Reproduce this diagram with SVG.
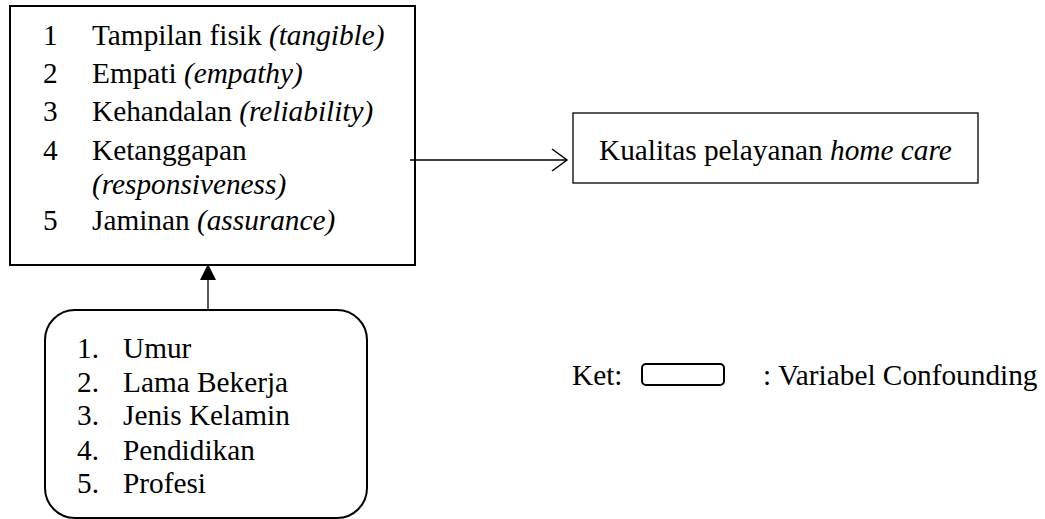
<svg xmlns="http://www.w3.org/2000/svg" width="1045" height="519" viewBox="0 0 1045 519">
<style>
text{font-size:29.3px;fill:#000}
.it{font-style:italic}
.box{fill:#fff;stroke:#000}
.ln{stroke:#000;fill:none}
</style>
<defs>
<marker id="open" markerWidth="18" markerHeight="26" refX="16" refY="13" orient="auto" markerUnits="userSpaceOnUse">
<path d="M1,2 L16,13 L1,24" fill="none" stroke="#000" stroke-width="1.5"/>
</marker>
<marker id="solid" markerWidth="16" markerHeight="18" refX="16" refY="8" orient="auto" markerUnits="userSpaceOnUse">
<path d="M0,0 L16,8 L0,16 Z" fill="#000"/>
</marker>
</defs>
<rect width="1045" height="519" fill="#fff"/>
<g font-family="Liberation Serif, Times New Roman, Tinos, serif">
<g id="dimensions">
<rect class="box" x="10" y="6" width="405" height="259" stroke-width="2"/>
<text x="43" y="45">1</text><text x="92" y="45">Tampilan fisik <tspan class="it">(tangible)</tspan></text>
<text x="43" y="83">2</text><text x="92" y="83">Empati <tspan class="it">(empathy)</tspan></text>
<text x="43" y="121">3</text><text x="92" y="121">Kehandalan <tspan class="it">(reliability)</tspan></text>
<text x="43" y="160">4</text><text x="92" y="160">Ketanggapan</text>
<text x="92" y="194" class="it">(responsiveness)</text>
<text x="43" y="230">5</text><text x="92" y="230">Jaminan <tspan class="it">(assurance)</tspan></text>
</g>
<g id="quality">
<rect class="box" x="573" y="113" width="405" height="70" stroke-width="1.3"/>
<text x="599" y="160">Kualitas pelayanan <tspan class="it">home care</tspan></text>
</g>
<g id="confounding">
<rect class="box" x="45" y="310" width="322" height="208" rx="30" ry="30" stroke-width="2"/>
<text x="77" y="358">1.</text><text x="123" y="358">Umur</text>
<text x="77" y="392">2.</text><text x="123" y="392">Lama Bekerja</text>
<text x="77" y="425">3.</text><text x="123" y="425">Jenis Kelamin</text>
<text x="77" y="460">4.</text><text x="123" y="460">Pendidikan</text>
<text x="77" y="493">5.</text><text x="123" y="493">Profesi</text>
</g>
<g id="legend">
<text x="572" y="385">Ket:</text>
<rect class="box" x="642" y="364" width="82" height="21" rx="4" ry="4" stroke-width="2"/>
<text x="763" y="385">: Variabel Confounding</text>
</g>
</g>
<g id="connectors">
<line class="ln" x1="410" y1="160" x2="567" y2="160" stroke-width="1.5" marker-end="url(#open)"/>
<line class="ln" x1="208" y1="310" x2="208" y2="264" stroke-width="1.3" marker-end="url(#solid)"/>
</g>
</svg>
